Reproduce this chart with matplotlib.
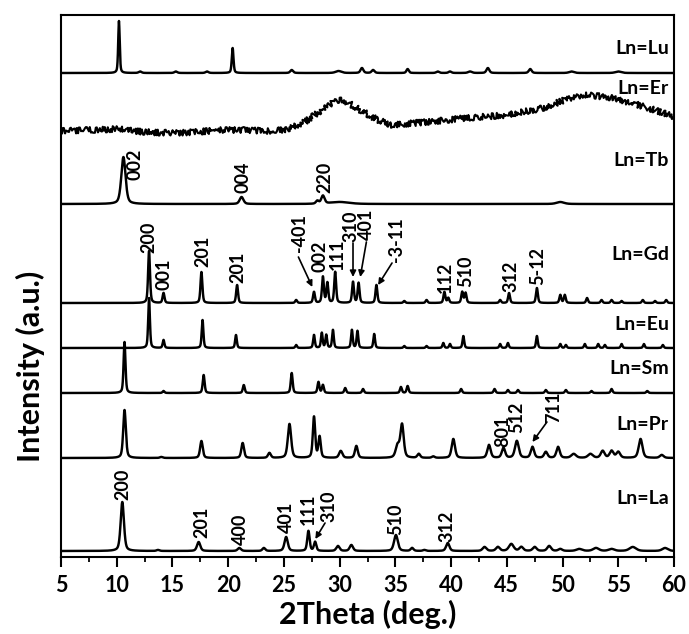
import numpy as np
import matplotlib
matplotlib.use("Agg")
import matplotlib.pyplot as plt
from matplotlib.ticker import MultipleLocator

plt.rcParams['font.family'] = ['Lato', 'DejaVu Sans']
plt.rcParams['font.weight'] = 'bold'

# ---------------- peak tables: 2theta (deg), intensity (a.u.), FWHM (deg) ----------------
lu_pos = [10.2, 12.1, 15.3, 18.1, 20.4, 25.7, 29.9, 32.0, 33.0, 36.1, 38.8, 39.9, 41.7, 43.3, 47.1, 50.8, 55.0]
lu_int = [52, 1.5, 1.5, 1.5, 25, 3, 2, 5, 3, 4, 1.5, 1.5, 1.5, 5, 4, 1.5, 1.5]
lu_fwhm = [0.16, 0.3, 0.3, 0.3, 0.18, 0.3, 0.6, 0.3, 0.3, 0.25, 0.3, 0.3, 0.4, 0.3, 0.3, 0.5, 0.6]

er_angle = [5.0, 7.5, 10.0, 12.5, 15.0, 17.0, 19.5, 21.5, 23.3, 25.1, 26.9, 28.4, 29.3, 30.2,
            31.1, 32.3, 33.4, 34.7, 36.8, 38.8, 41.3, 42.6, 45.1, 48.2, 50.2, 52.0, 54.1,
            56.2, 58.3, 60.0]
er_level = [426, 427, 428, 425, 424, 425, 427, 427, 426, 427, 435, 447, 454, 457,
            452, 444, 437, 432, 434, 436, 439, 440, 442, 449, 457, 462, 460,
            454, 447, 440]

tb_pos = [10.6, 21.2, 28.0, 28.5, 30.0, 49.8]
tb_int = [47, 7, 3, 8, 2, 2]
tb_fwhm = [0.45, 0.4, 0.3, 0.35, 2.0, 0.8]

gd_pos = [12.9, 14.2, 17.6, 20.8, 26.1, 27.7, 28.5, 28.9, 29.6, 31.2, 31.7, 33.3, 35.8, 37.8,
          39.4, 39.75, 41.0, 41.3, 44.4, 45.2, 47.7, 49.8, 50.2, 52.2, 53.5, 54.4, 55.3,
          57.2, 58.3, 59.3]
gd_int = [52, 10, 31, 18, 3, 11, 26, 20, 31, 21, 20, 18, 2, 3,
          11, 5, 11, 10, 3, 10, 15, 8, 8, 5, 3, 3, 2,
          3, 2, 3]
gd_fwhm = [0.2] * len(gd_pos)

eu_pos = [12.9, 14.2, 17.7, 20.7, 26.1, 27.7, 28.4, 28.8, 29.4, 31.1, 31.6, 33.1, 35.8, 37.8,
          39.3, 39.9, 41.1, 44.4, 45.1, 47.7, 49.8, 50.3, 52.0, 53.2, 53.8, 55.3, 57.3, 59.0]
eu_int = [50, 8, 28, 13, 3, 13, 15, 13, 18, 18, 17, 14, 2, 2,
          5, 4, 12, 4, 5, 12, 4, 3, 4, 4, 3, 4, 4, 3]
eu_fwhm = [0.18] * len(eu_pos)

sm_pos = [10.7, 14.2, 17.8, 21.4, 25.7, 28.1, 28.5, 30.5, 32.1, 35.5, 36.1, 40.9, 43.9,
          45.1, 46.0, 48.5, 50.3, 52.6, 54.4, 57.6]
sm_int = [51, 2, 18, 8, 20, 11, 8, 5, 4, 6, 7, 4, 4, 3, 3, 3, 3, 2, 4, 2]
sm_fwhm = [0.2] * len(sm_pos)

pr_pos = [10.7, 14.0, 17.6, 21.3, 23.7, 25.5, 27.7, 28.2, 30.1, 31.5, 35.2, 35.6, 37.1,
          38.4, 40.2, 43.4, 44.7, 45.9, 47.3, 48.5, 49.6, 51.0, 52.5, 53.6, 54.4, 55.0,
          57.0, 58.9]
pr_int = [48, 1, 17, 15, 5, 34, 41, 21, 7, 12, 12, 33, 4,
          1.5, 19, 13, 10, 17, 11, 6, 11, 4, 4, 7, 7, 6,
          19, 3]
pr_fwhm = [0.28, 0.3, 0.28, 0.28, 0.3, 0.35, 0.25, 0.25, 0.35, 0.3, 0.4, 0.35, 0.3,
           0.3, 0.35, 0.35, 0.35, 0.4, 0.35, 0.35, 0.35, 0.5, 0.5, 0.4, 0.4, 0.4,
           0.4, 0.4]

la_pos = [10.5, 13.7, 17.35, 21.0, 23.2, 25.2, 27.2, 27.8, 29.85, 31.05, 35.05, 36.5, 37.6,
          39.7, 43.0, 44.2, 45.4, 46.3, 47.5, 48.8, 49.8, 51.5, 53.0, 54.4, 56.3, 59.2]
la_int = [49, 1, 9, 3, 3, 14, 20, 9, 5, 6, 16, 3, 1,
          8, 4, 4, 7, 4, 4, 5, 2, 2, 3, 2, 4, 3]
la_fwhm = [0.35, 0.3, 0.35, 0.35, 0.3, 0.35, 0.25, 0.25, 0.35, 0.35, 0.4, 0.3, 0.3,
           0.35, 0.4, 0.4, 0.5, 0.4, 0.4, 0.4, 0.4, 0.6, 0.6, 0.6, 0.7, 0.6]

# vertical stacking of the patterns
offsets = {'Lu': 484, 'Tb': 353, 'Gd': 254, 'Eu': 209, 'Sm': 164, 'Pr': 99, 'La': 6}

tables = {
    'Lu': (lu_pos, lu_int, lu_fwhm),
    'Tb': (tb_pos, tb_int, tb_fwhm),
    'Gd': (gd_pos, gd_int, gd_fwhm),
    'Eu': (eu_pos, eu_int, eu_fwhm),
    'Sm': (sm_pos, sm_int, sm_fwhm),
    'Pr': (pr_pos, pr_int, pr_fwhm),
    'La': (la_pos, la_int, la_fwhm),
}

# sample names with the vertical position of each name
names = ['Lu', 'Er', 'Tb', 'Gd', 'Eu', 'Sm', 'Pr', 'La']
name_y = [508, 468, 396, 303, 233, 189, 132, 59]

# Miller-index annotations: (text, x, y of text bottom, arrow tail, arrow head)
hkl_labels = [
    ('002', 11.64, 377, None, None),
    ('004', 21.33, 364, None, None),
    ('220', 28.69, 364, None, None),
    ('200', 12.90, 304, None, None),
    ('001', 14.24, 267, None, None),
    ('201', 17.74, 290, None, None),
    ('201', 20.88, 274, None, None),
    ('-401', 26.36, 305, (26.30, 300), (27.55, 270)),
    ('002', 28.28, 285, None, None),
    ('111', 29.78, 287, None, None),
    ('310', 31.05, 315, (31.20, 314), (31.20, 280)),
    ('401', 32.42, 317, (32.40, 315), (31.85, 280)),
    ('-3-11', 35.06, 295, (34.70, 294), (33.45, 272)),
    ('112', 39.50, 264, None, None),
    ('510', 41.30, 270, None, None),
    ('312', 45.38, 265, None, None),
    ('5-12', 47.80, 272, None, None),
    ('801', 44.62, 110, None, None),
    ('512', 45.92, 124, None, None),
    ('711', 49.24, 134, (48.60, 135), (47.30, 115)),
    ('200', 10.52, 57, None, None),
    ('201', 17.61, 19, None, None),
    ('400', 21.06, 12, None, None),
    ('401', 25.22, 24, None, None),
    ('111', 27.18, 32, None, None),
    ('310', 29.00, 35, (28.69, 34), (27.82, 18)),
    ('510', 35.06, 22, None, None),
    ('312', 39.63, 15, None, None),
]


def profile(x, pos, inten, fwhm, eta=0.45):
    y = np.zeros_like(x)
    for p, h, w in zip(pos, inten, fwhm):
        u = (x - p) / w
        y += h * (eta / (1 + 4 * u ** 2) + (1 - eta) * np.exp(-4 * np.log(2) * u ** 2))
    return y


fig = plt.figure(figsize=(6.89, 6.34), dpi=100)
ax = fig.add_axes([61 / 689, 77 / 634, 613 / 689, 542 / 634])

x = np.arange(5.0, 60.0001, 0.01)
for key, (pos, inten, fwhm) in tables.items():
    ax.plot(x, offsets[key] + profile(x, pos, inten, fwhm), color='black', lw=1.75,
            solid_joinstyle='round')

er_line, = ax.plot(er_angle, er_level, color='black', lw=1.5)
er_line.set_sketch_params(scale=3.0, length=1.0, randomness=3)

for name, yy in zip(names, name_y):
    ax.text(59.55, yy, 'Ln=' + name, ha='right', va='center', fontsize=14,
            fontweight='bold')

for text, tx, ty, tail, head in hkl_labels:
    ax.text(tx, ty, text, rotation=90, ha='center', va='bottom', fontsize=13,
            fontweight='bold')
    if tail is not None:
        ax.annotate('', xy=head, xytext=tail,
                    arrowprops=dict(arrowstyle='-|>', color='black', lw=1.2,
                                    mutation_scale=9, shrinkA=0, shrinkB=0))

ax.set_xlim(5, 60)
ax.set_ylim(0, 542)
ax.xaxis.set_major_locator(MultipleLocator(5))
ax.xaxis.set_minor_locator(MultipleLocator(2.5))
ax.tick_params(axis='x', which='major', direction='out', length=7, width=1.5,
               labelsize=15.5, pad=6)
ax.tick_params(axis='x', which='minor', direction='out', length=3.5, width=1.3)
ax.tick_params(axis='y', left=False, labelleft=False)
for lab in ax.get_xticklabels():
    lab.set_fontweight('bold')
for sp in ax.spines.values():
    sp.set_linewidth(1.5)

ax.set_xlabel('2Theta (deg.)', fontsize=22, fontweight='bold', labelpad=3)
fig.text(30 / 689, 1 - 366 / 634, 'Intensity (a.u.)', rotation=90, ha='center',
         va='center', fontsize=22, fontweight='bold')

fig.savefig('out.png', dpi=100, facecolor='white')
